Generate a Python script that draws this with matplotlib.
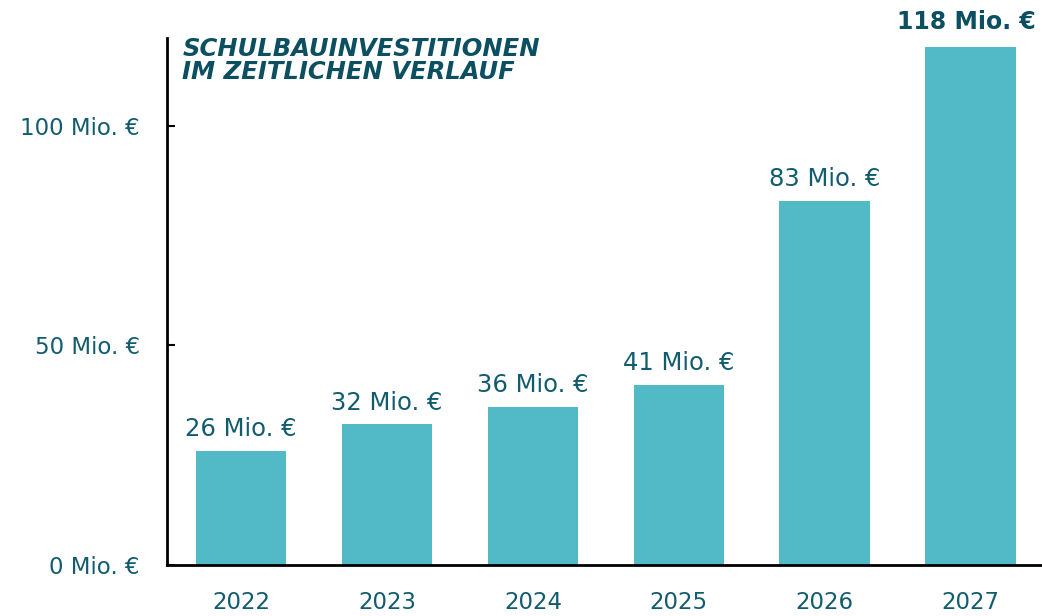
import matplotlib.pyplot as plt

plt.rcParams['font.family'] = ['DejaVu Sans']

years = ['2022', '2023', '2024', '2025', '2026', '2027']
values = [26, 32, 36, 41, 83, 118]
labels = ['26 Mio. €', '32 Mio. €', '36 Mio. €', '41 Mio. €', '83 Mio. €', '118 Mio. €']
title_lines = ['SCHULBAUINVESTITIONEN', 'IM ZEITLICHEN VERLAUF']

bar_color = '#52BAC7'
text_color = '#125C70'
title_color = '#0B4F61'

fig = plt.figure(figsize=(10.42, 6.16), dpi=100)
ax = fig.add_axes([0.160, 0.083, 0.84, 0.855])

x = range(len(years))
ax.bar(x, values, width=0.62, color=bar_color)

for i, (v, lab) in enumerate(zip(x, labels)):
    if i == len(years) - 1:
        ax.text(v - 0.03, values[i] + 4.1, lab, ha='center', va='baseline', fontsize=17,
                fontweight='bold', color=title_color, clip_on=False)
    else:
        ax.text(v, values[i] + 3.4, lab, ha='center', va='baseline', fontsize=17.5,
                color=text_color)

ax.set_xlim(-0.51, 5.49)
ax.set_ylim(0, 120)
ax.set_yticks([0, 50, 100])
ax.set_yticklabels(['0 Mio. €', '50 Mio. €', '100 Mio. €'])
ax.set_xticks(list(x))
ax.set_xticklabels(years)

ax.tick_params(axis='y', direction='in', labelsize=16.5, labelcolor=text_color,
               length=6, width=1.5, pad=19.5)
ax.tick_params(axis='x', labelsize=16.5, labelcolor=text_color, length=0, pad=19)

for s in ['top', 'right']:
    ax.spines[s].set_visible(False)
ax.spines['left'].set_linewidth(2)
ax.spines['bottom'].set_linewidth(2)

for line, yy in zip(title_lines, [0.966, 0.922]):
    ax.text(0.018, yy, line, transform=ax.transAxes, ha='left', va='baseline',
            fontsize=17.5, fontweight='bold', fontstyle='italic', color=title_color)

fig.savefig('out.png', dpi=100)
